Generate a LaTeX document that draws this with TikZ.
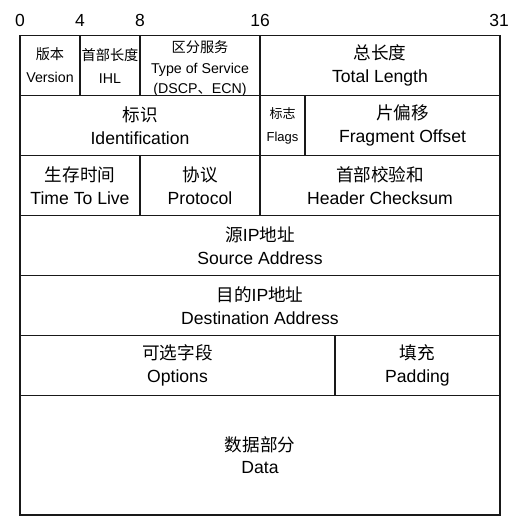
\documentclass[tikz,border=0pt]{standalone}
\usepackage{fontspec}
\setmainfont{Liberation Sans}
\newfontfamily\cjk{Noto Sans CJK SC}
\begin{document}
\begin{tikzpicture}[x=1pt,y=-1pt,
  cell/.style={draw=black!90,line width=1.3pt,inner sep=0pt,outer sep=0pt,
    align=center,minimum height=60pt},
  big/.style={font=\fontsize{17.6}{22.5}\selectfont},
  small/.style={font=\fontsize{14.2}{21}\selectfont},
  bitlabel/.style={inner sep=0pt,font=\fontsize{17.5}{20}\selectfont}]
\useasboundingbox (0,0) rectangle (521,522);

% bit positions
\node[bitlabel] (b0)  at (20,20)  {0};
\node[bitlabel] (b4)  at (80,20)  {4};
\node[bitlabel] (b8)  at (140,20) {8};
\node[bitlabel] (b16) at (260,20) {16};
\node[bitlabel] (b31) at (499,20) {31};

% row 1
\node[cell,small,minimum width=60pt,font=\fontsize{14.2}{23}\selectfont] (ver) at (50,65.5) {{\cjk 版本}\\Version};
\node[cell,small,minimum width=60pt,font=\fontsize{14.2}{23}\selectfont] (ihl) at (110,65.5) {{\cjk 首部长度}\\IHL};
\node[cell,minimum width=120pt] (tos) at (200,65.5) {};
\node[align=center,inner sep=0pt,font=\fontsize{14.2}{20.2}\selectfont] (tostext) at ([yshift=-3pt]tos.center) {{\cjk 区分服务}\\Type of Service\\(DSCP{\cjk 、}ECN)};
\node[cell,big,minimum width=240pt] (len) at (380,65.5) {{\cjk 总长度}\\Total Length};

% row 2
\node[cell,big,minimum width=240pt] (id) at (140,125.5) {{\cjk 标识}\\Identification};
\node[cell,minimum width=45pt,font=\fontsize{13}{23}\selectfont] (flags) at (282.5,125.5) {{\cjk 标志}\\Flags};
\node[cell,big,minimum width=195pt] (frag) at (402.5,125.5) {{\cjk 片偏移}\\Fragment Offset};

% row 3
\node[cell,big,minimum width=120pt] (ttl) at (80,185.5) {{\cjk 生存时间}\\Time To Live};
\node[cell,big,minimum width=120pt] (proto) at (200,185.5) {{\cjk 协议}\\Protocol};
\node[cell,big,minimum width=240pt] (csum) at (380,185.5) {{\cjk 首部校验和}\\Header Checksum};

% rows 4 and 5
\node[cell,big,minimum width=480pt] (src) at (260,245.5) {{\cjk 源}IP{\cjk 地址}\\Source Address};
\node[cell,big,minimum width=480pt] (dst) at (260,305.5) {{\cjk 目的}IP{\cjk 地址}\\Destination Address};

% row 6
\node[cell,big,minimum width=315pt] (opt) at (177.5,365.5) {{\cjk 可选字段}\\Options};
\node[cell,big,minimum width=165pt] (pad) at (417.5,365.5) {{\cjk 填充}\\Padding};

% payload
\node[cell,big,minimum width=480pt,minimum height=119.5pt] (data) at (260,455.25) {{\cjk 数据部分}\\Data};
\end{tikzpicture}
\end{document}
